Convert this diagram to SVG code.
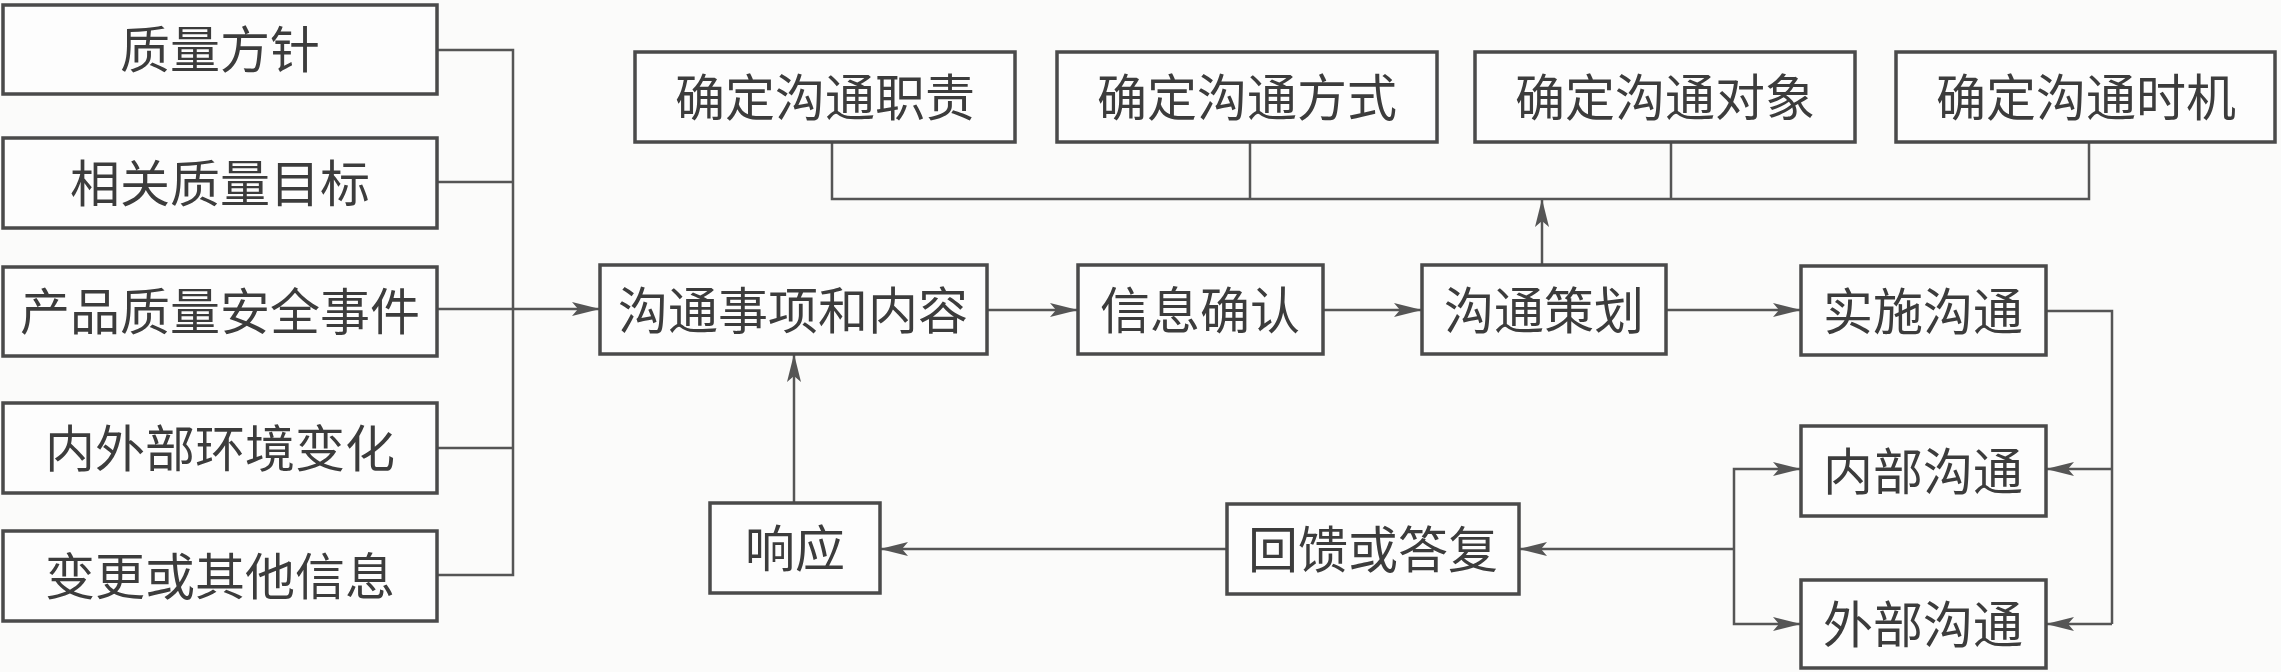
<svg xmlns="http://www.w3.org/2000/svg" width="2281" height="672" viewBox="0 0 2281 672">
<style>
.box{fill:#fdfdfd;stroke:#4a4a4a;stroke-width:3.5}
.t{font-family:"Noto Sans CJK SC","Noto Sans",sans-serif;font-size:50px;fill:#3c3c3c;text-anchor:middle}
.c{fill:none;stroke:#555;stroke-width:2.5}
.a{fill:none;stroke:#555;stroke-width:2.5;marker-end:url(#ah)}
</style>
<defs>
<marker id="ah" markerUnits="userSpaceOnUse" markerWidth="30" markerHeight="14" refX="28" refY="7" orient="auto">
<path d="M0,0 L28,7 L0,14 L6,7 z" fill="#555"/>
</marker>
</defs>
<rect width="2281" height="672" fill="#fbfbfa"/>
<g id="connectors">
<path class="c" d="M437,50 H513 V575 H437 M437,182 H513 M437,448 H513"/>
<path class="a" d="M437,309 H600"/>
<path class="a" d="M987,310 H1078"/>
<path class="a" d="M1323,310 H1422"/>
<path class="a" d="M1666,310 H1801"/>
<path class="a" d="M1542,265 V199"/>
<path class="c" d="M832,142 V199 H2089 V142 M1250,142 V199 M1671,142 V199"/>
<path class="c" d="M2046,311 H2112 V624"/>
<path class="a" d="M2112,469 H2046"/>
<path class="a" d="M2112,624 H2046"/>
<path class="a" d="M1734,549 V469 H1801"/>
<path class="a" d="M1734,549 V624 H1801"/>
<path class="a" d="M1734,549 H1519"/>
<path class="a" d="M1227,549 H880"/>
<path class="a" d="M794,503 V354"/>
</g>
<g id="n1"><rect class="box" x="3" y="5" width="434" height="89"/><text class="t" x="220" y="68">质量方针</text></g>
<g id="n2"><rect class="box" x="3" y="138" width="434" height="90"/><text class="t" x="220" y="202">相关质量目标</text></g>
<g id="n3"><rect class="box" x="3" y="267" width="434" height="89"/><text class="t" x="220" y="330">产品质量安全事件</text></g>
<g id="n4"><rect class="box" x="3" y="403" width="434" height="90"/><text class="t" x="220" y="467">内外部环境变化</text></g>
<g id="n5"><rect class="box" x="3" y="531" width="434" height="90"/><text class="t" x="220" y="595">变更或其他信息</text></g>
<g id="n6"><rect class="box" x="635" y="52" width="380" height="90"/><text class="t" x="825" y="116">确定沟通职责</text></g>
<g id="n7"><rect class="box" x="1057" y="52" width="380" height="90"/><text class="t" x="1247" y="116">确定沟通方式</text></g>
<g id="n8"><rect class="box" x="1475" y="52" width="380" height="90"/><text class="t" x="1665" y="116">确定沟通对象</text></g>
<g id="n9"><rect class="box" x="1896" y="52" width="379" height="90"/><text class="t" x="2086" y="116">确定沟通时机</text></g>
<g id="n10"><rect class="box" x="600" y="265" width="387" height="89"/><text class="t" x="793" y="329">沟通事项和内容</text></g>
<g id="n11"><rect class="box" x="1078" y="265" width="245" height="89"/><text class="t" x="1200" y="329">信息确认</text></g>
<g id="n12"><rect class="box" x="1422" y="265" width="244" height="89"/><text class="t" x="1544" y="329">沟通策划</text></g>
<g id="n13"><rect class="box" x="1801" y="266" width="245" height="89"/><text class="t" x="1923" y="330">实施沟通</text></g>
<g id="n14"><rect class="box" x="1801" y="426" width="245" height="90"/><text class="t" x="1923" y="490">内部沟通</text></g>
<g id="n15"><rect class="box" x="1801" y="580" width="245" height="88"/><text class="t" x="1923" y="643">外部沟通</text></g>
<g id="n16"><rect class="box" x="1227" y="504" width="292" height="90"/><text class="t" x="1373" y="568">回馈或答复</text></g>
<g id="n17"><rect class="box" x="710" y="503" width="170" height="90"/><text class="t" x="795" y="567">响应</text></g>
</svg>
